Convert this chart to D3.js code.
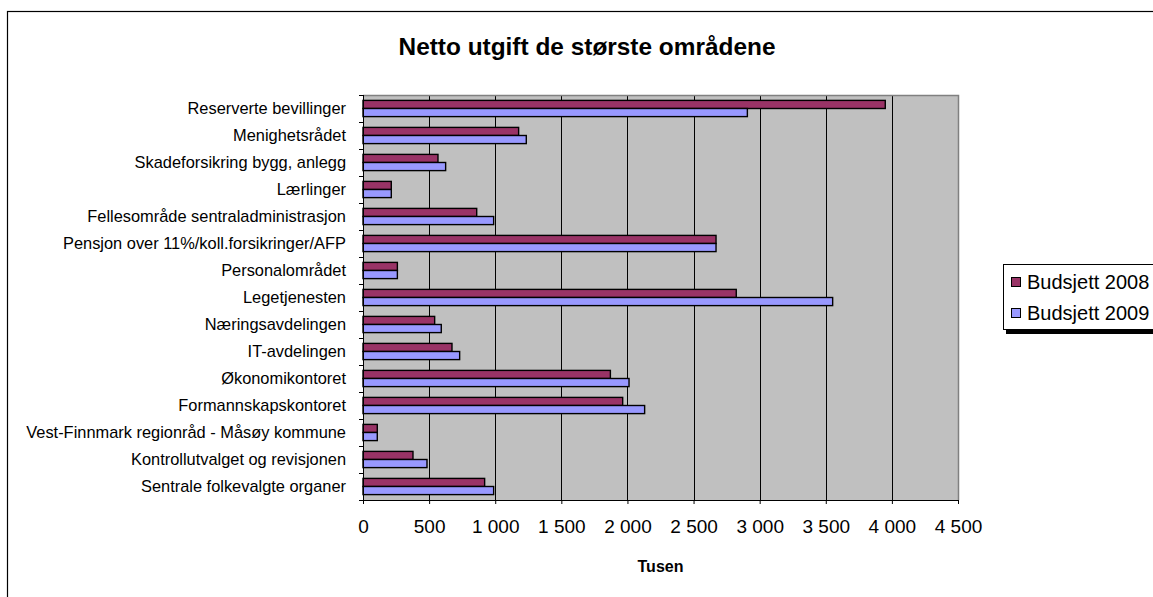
<!DOCTYPE html>
<html>
<head>
<meta charset="utf-8">
<script src="https://cdn.jsdelivr.net/npm/d3@7"></script>
<style>
  body { margin: 0; background: #fff; }
  svg { font-family: Arial, "Liberation Sans", sans-serif; }
</style>
</head>
<body>
<svg id="chart" width="1153" height="597"></svg>
<script>
// categories, top to bottom as in the chart
const categories = [
  "Reserverte bevillinger",
  "Menighetsrådet",
  "Skadeforsikring bygg, anlegg",
  "Lærlinger",
  "Fellesområde sentraladministrasjon",
  "Pensjon over 11%/koll.forsikringer/AFP",
  "Personalområdet",
  "Legetjenesten",
  "Næringsavdelingen",
  "IT-avdelingen",
  "Økonomikontoret",
  "Formannskapskontoret",
  "Vest-Finnmark regionråd - Måsøy kommune",
  "Kontrollutvalget og revisjonen",
  "Sentrale folkevalgte organer"
];
const budsjett2008 = [3950, 1177, 567, 214, 860, 2670, 260, 2823, 542, 673, 1871, 1964, 108, 378, 920];
const budsjett2009 = [2907, 1235, 625, 214, 988, 2670, 260, 3552, 592, 731, 2012, 2130, 108, 484, 988];
const seriesNames = ["Budsjett 2008", "Budsjett 2009"];
const seriesColors = ["#993366", "#9999FF"];
const xTicks = [0, 500, 1000, 1500, 2000, 2500, 3000, 3500, 4000, 4500];

const svg = d3.select("#chart");
const plot = {left: 363, right: 958, top: 95, bottom: 500};

// outer chart border (runs off the picture on right and bottom)
svg.append("rect")
  .attr("x", 7.5).attr("y", 11.5)
  .attr("width", 1300).attr("height", 700)
  .attr("fill", "#fff").attr("stroke", "#000").attr("stroke-width", 1.2);

svg.append("text")
  .attr("x", 587).attr("y", 55)
  .attr("text-anchor", "middle")
  .attr("font-size", 24).attr("font-weight", "bold")
  .attr("textLength", 377).attr("lengthAdjust", "spacingAndGlyphs")
  .text("Netto utgift de største områdene");

let x = d3.scaleLinear().domain([0, 4500]).range([plot.left, plot.right]);
let y = d3.scaleBand().domain(categories).range([plot.top, plot.bottom]).paddingInner(0.4).paddingOuter(0.2);
let ySub = d3.scaleBand().domain([0, 1]).range([0, y.bandwidth()]);

// plot background
svg.append("rect")
  .attr("x", plot.left).attr("y", plot.top)
  .attr("width", plot.right - plot.left).attr("height", plot.bottom - plot.top)
  .attr("fill", "#C0C0C0");

// vertical gridlines
svg.append("g").selectAll("line")
  .data(xTicks.slice(1))
  .enter().append("line")
  .attr("x1", d => Math.round(x(d)) + 0.5).attr("x2", d => Math.round(x(d)) + 0.5)
  .attr("y1", plot.top).attr("y2", plot.bottom)
  .attr("stroke", "#000").attr("stroke-width", 1);

// plot border top/right in grey
svg.append("path")
  .attr("d", `M${plot.left},${plot.top + 0.5}H${plot.right + 0.5}V${plot.bottom}`)
  .attr("fill", "none").attr("stroke", "#808080").attr("stroke-width", 1.5);

// bars
const series = [budsjett2008, budsjett2009];
series.forEach(function(vals, s) {
  svg.append("g").selectAll("rect")
    .data(vals)
    .enter().append("rect")
    .attr("x", plot.left)
    .attr("y", (d, i) => y(categories[i]) + ySub(s))
    .attr("width", d => x(d) - plot.left)
    .attr("height", ySub.bandwidth())
    .attr("fill", seriesColors[s])
    .attr("stroke", "#000").attr("stroke-width", 1.4);
});

// axes
const fmt = d3.formatLocale({decimal: ",", thousands: "\u00a0", grouping: [3], currency: ["", " kr"]}).format(",d");
const xAxis = d3.axisBottom(x).tickValues(xTicks).tickFormat(fmt).tickSize(4).tickPadding(16);
const gx = svg.append("g").attr("transform", `translate(0,${plot.bottom})`).call(xAxis);
gx.select(".domain").attr("stroke", "#000");
gx.selectAll("text").attr("font-size", 19).attr("fill", "#000").attr("font-family", null);

// left axis: ticks at category boundaries
const yAxisG = svg.append("g");
yAxisG.append("line")
  .attr("x1", plot.left + 0.5).attr("x2", plot.left + 0.5)
  .attr("y1", plot.top).attr("y2", plot.bottom)
  .attr("stroke", "#000");
yAxisG.selectAll(".tk")
  .data(d3.range(categories.length + 1))
  .enter().append("line")
  .attr("x1", plot.left - 4).attr("x2", plot.left)
  .attr("y1", i => Math.round(plot.top + (plot.bottom - plot.top) * i / categories.length) + 0.5)
  .attr("y2", i => Math.round(plot.top + (plot.bottom - plot.top) * i / categories.length) + 0.5)
  .attr("stroke", "#000");
yAxisG.selectAll("text")
  .data(categories)
  .enter().append("text")
  .attr("x", plot.left - 17)
  .attr("y", d => y(d) + y.bandwidth() / 2)
  .attr("dy", "0.35em")
  .attr("text-anchor", "end")
  .attr("font-size", 16.4)
  .text(d => d);

svg.append("text")
  .attr("x", (plot.left + plot.right) / 2).attr("y", 572)
  .attr("text-anchor", "middle")
  .attr("font-size", 16).attr("font-weight", "bold")
  .text("Tusen");

// legend
const lg = svg.append("g").attr("transform", "translate(1003,264)");
lg.append("rect").attr("x", 3).attr("y", 5).attr("width", 200).attr("height", 65).attr("fill", "#000");
lg.append("rect").attr("x", 0.5).attr("y", 0.5).attr("width", 200).attr("height", 65)
  .attr("fill", "#fff").attr("stroke", "#000");
seriesNames.forEach(function(name, i) {
  const yy = 18 + i * 31;
  lg.append("rect").attr("x", 8.5).attr("y", yy - 4.5).attr("width", 9).attr("height", 9)
    .attr("fill", seriesColors[i]).attr("stroke", "#000");
  lg.append("text").attr("x", 24).attr("y", yy).attr("dy", "0.35em")
    .attr("font-size", 20).text(name);
});
</script>
</body>
</html>
